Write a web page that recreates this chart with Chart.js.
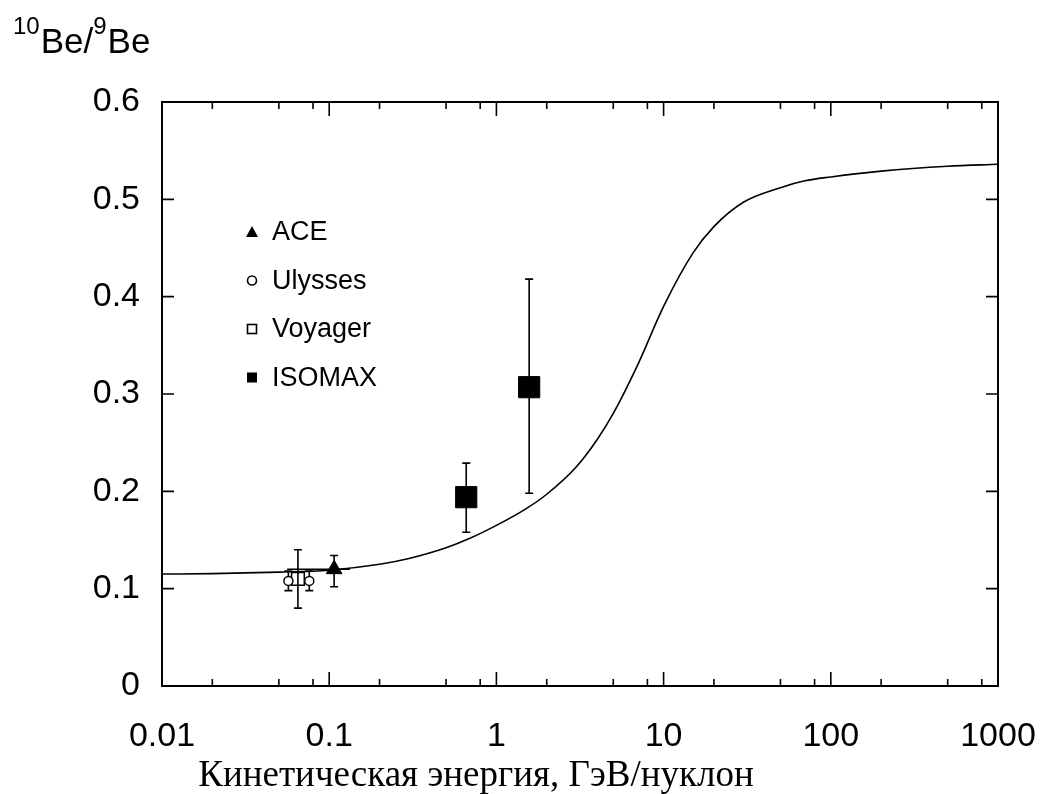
<!DOCTYPE html>
<html>
<head>
<meta charset="utf-8">
<script src="https://cdn.jsdelivr.net/npm/chart.js@4.4.1/dist/chart.umd.min.js"></script>
<style>
  html, body { margin: 0; padding: 0; background: #fff; }
</style>
</head>
<body>
<canvas id="be-chart" width="1042" height="794"></canvas>
<script>
// model curve, 10Be/9Be vs kinetic energy (GeV/nucleon)
let curveEnergy = [0.01, 0.02, 0.05, 0.1, 0.2, 0.3, 0.5, 0.7, 1, 1.5, 2, 3, 4, 5, 7, 10, 15, 20, 30, 50, 70, 100, 200, 500, 1000];
let curveRatio  = [0.115, 0.1155, 0.117, 0.119, 0.125, 0.131, 0.142, 0.152, 0.165, 0.182, 0.197, 0.225, 0.253, 0.28, 0.33, 0.39, 0.445, 0.472, 0.497, 0.512, 0.519, 0.523, 0.529, 0.534, 0.536];

let aceEnergy = [0.107];
let aceRatio = [0.12];
let aceLow = [0.102];
let aceHigh = [0.134];
let aceEnergyLow = [0.056];
let aceEnergyHigh = [0.133];

let ulyssesEnergy = [0.057, 0.076];
let ulyssesRatio = [0.108, 0.108];
let ulyssesLow = [0.098, 0.098];
let ulyssesHigh = [0.118, 0.118];

let voyagerEnergy = [0.065];
let voyagerRatio = [0.11];
let voyagerLow = [0.08];
let voyagerHigh = [0.14];

let isomaxEnergy = [0.66, 1.57];
let isomaxRatio = [0.194, 0.307];
let isomaxLow = [0.158, 0.198];
let isomaxHigh = [0.229, 0.418];

let xTicks = [0.01, 0.1, 1, 10, 100, 1000];
let xTickLabels = ['0.01', '0.1', '1', '10', '100', '1000'];
let xMinorSteps = [2, 5, 8];
let yTicks = [0, 0.1, 0.2, 0.3, 0.4, 0.5, 0.6];
let yTickLabels = ['0', '0.1', '0.2', '0.3', '0.4', '0.5', '0.6'];

let xTitle = 'Кинетическая энергия, ГэВ/нуклон';

let sans = '"Liberation Sans", Arial, sans-serif';
let serif = '"Liberation Serif", "Times New Roman", serif';

function pts(xs, ys) {
  return xs.map((x, i) => ({ x: x, y: ys[i] }));
}

// vertical (and horizontal) error bars
let errorBars = {
  id: 'errorBars',
  beforeDatasetsDraw(chart) {
    let ctx = chart.ctx, sx = chart.scales.x, sy = chart.scales.y;
    ctx.save();
    ctx.strokeStyle = '#000';
    ctx.lineWidth = 1.6;
    chart.data.datasets.forEach(ds => {
      if (!ds.errLow) return;
      ds.data.forEach((p, i) => {
        let px = sx.getPixelForValue(p.x);
        let top = sy.getPixelForValue(ds.errHigh[i]);
        let bot = sy.getPixelForValue(ds.errLow[i]);
        ctx.beginPath();
        ctx.moveTo(px, top); ctx.lineTo(px, bot);
        ctx.moveTo(px - 4, top); ctx.lineTo(px + 4, top);
        ctx.moveTo(px - 4, bot); ctx.lineTo(px + 4, bot);
        if (ds.errLeft) {
          let py = sy.getPixelForValue(p.y);
          ctx.moveTo(sx.getPixelForValue(ds.errLeft[i]), py);
          ctx.lineTo(sx.getPixelForValue(ds.errRight[i]), py);
        }
        ctx.stroke();
      });
    });
    ctx.restore();
  }
};

// box with inward ticks on all four sides
let frame = {
  id: 'frame',
  afterDatasetsDraw(chart) {
    let ctx = chart.ctx, a = chart.chartArea, sx = chart.scales.x, sy = chart.scales.y;
    ctx.save();
    ctx.strokeStyle = '#000';
    ctx.lineWidth = 2;
    ctx.strokeRect(a.left, a.top, a.right - a.left, a.bottom - a.top);
    ctx.lineWidth = 1.6;
    ctx.beginPath();
    xTicks.forEach((v, k) => {
      let px = sx.getPixelForValue(v);
      ctx.moveTo(px, a.bottom); ctx.lineTo(px, a.bottom - 14);
      ctx.moveTo(px, a.top); ctx.lineTo(px, a.top + 14);
      if (k < xTicks.length - 1) {
        xMinorSteps.forEach(m => {
          let qx = sx.getPixelForValue(v * m);
          ctx.moveTo(qx, a.bottom); ctx.lineTo(qx, a.bottom - 7);
          ctx.moveTo(qx, a.top); ctx.lineTo(qx, a.top + 7);
        });
      }
    });
    yTicks.forEach(v => {
      let py = sy.getPixelForValue(v);
      ctx.moveTo(a.left, py); ctx.lineTo(a.left + 12, py);
      ctx.moveTo(a.right, py); ctx.lineTo(a.right - 12, py);
    });
    ctx.stroke();
    ctx.restore();
  }
};

// axis captions and the legend inside the plot
let texts = {
  id: 'texts',
  afterDraw(chart) {
    let ctx = chart.ctx;
    ctx.save();
    ctx.fillStyle = '#000';
    ctx.textBaseline = 'alphabetic';

    // 10Be/9Be
    let x = 13;
    ctx.font = '24px ' + sans;
    ctx.fillText('10', x, 34);
    x += ctx.measureText('10').width + 1;
    ctx.font = '35px ' + sans;
    ctx.fillText('Be/', x, 53);
    x += ctx.measureText('Be/').width;
    ctx.font = '24px ' + sans;
    ctx.fillText('9', x, 34);
    x += ctx.measureText('9').width + 1;
    ctx.font = '35px ' + sans;
    ctx.fillText('Be', x, 53);

    ctx.font = '37px ' + serif;
    ctx.textAlign = 'center';
    ctx.fillText(xTitle, 476, 786);

    // legend
    ctx.textAlign = 'left';
    ctx.textBaseline = 'middle';
    ctx.font = '27px ' + sans;
    ctx.strokeStyle = '#000';
    ctx.lineWidth = 1.6;
    let sets = chart.data.datasets.filter(d => d.inLegend);
    sets.forEach((d, i) => {
      let ly = 232 + i * 48.5;
      let mx = 252;
      ctx.beginPath();
      if (d.pointStyle === 'triangle') {
        ctx.moveTo(mx, ly - 6); ctx.lineTo(mx + 6, ly + 5); ctx.lineTo(mx - 6, ly + 5); ctx.closePath();
        ctx.fill();
      } else if (d.pointStyle === 'circle') {
        ctx.arc(mx, ly, 4.5, 0, Math.PI * 2);
        ctx.stroke();
      } else if (d.backgroundColor === '#000') {
        ctx.fillRect(mx - 5, ly - 5, 10, 10);
      } else {
        ctx.strokeRect(mx - 4.5, ly - 4.5, 9, 9);
      }
      ctx.fillText(d.label, 272, ly + 1);
    });
    ctx.restore();
  }
};

let ctx = document.getElementById('be-chart').getContext('2d');

let chart = new Chart(ctx, {
  type: 'scatter',
  data: {
    datasets: [{
      type: 'line',
      label: 'model',
      data: pts(curveEnergy, curveRatio),
      borderColor: '#000',
      borderWidth: 1.6,
      pointRadius: 0,
      cubicInterpolationMode: 'monotone'
    }, {
      label: 'ACE',
      inLegend: true,
      data: pts(aceEnergy, aceRatio),
      errLow: aceLow, errHigh: aceHigh,
      errLeft: aceEnergyLow, errRight: aceEnergyHigh,
      pointStyle: 'triangle',
      pointRadius: 9,
      backgroundColor: '#000',
      borderColor: '#000'
    }, {
      label: 'Ulysses',
      inLegend: true,
      data: pts(ulyssesEnergy, ulyssesRatio),
      errLow: ulyssesLow, errHigh: ulyssesHigh,
      pointStyle: 'circle',
      pointRadius: 4.5,
      backgroundColor: '#fff',
      borderColor: '#000',
      borderWidth: 1.5
    }, {
      label: 'Voyager',
      inLegend: true,
      data: pts(voyagerEnergy, voyagerRatio),
      errLow: voyagerLow, errHigh: voyagerHigh,
      pointStyle: 'rect',
      pointRadius: 9,
      backgroundColor: 'rgba(255,255,255,0)',
      borderColor: '#000',
      borderWidth: 1.5
    }, {
      label: 'ISOMAX',
      inLegend: true,
      data: pts(isomaxEnergy, isomaxRatio),
      errLow: isomaxLow, errHigh: isomaxHigh,
      pointStyle: 'rect',
      pointRadius: 15,
      backgroundColor: '#000',
      borderColor: '#000'
    }]
  },
  options: {
    responsive: false,
    animation: false,
    layout: { padding: { left: 0, right: 44, top: 102, bottom: 0 } },
    plugins: {
      legend: { display: false },
      tooltip: { enabled: false }
    },
    scales: {
      x: {
        type: 'logarithmic',
        min: 0.01,
        max: 1000,
        grid: { display: false, drawTicks: false },
        border: { display: false },
        afterBuildTicks: s => { s.ticks = xTicks.map(v => ({ value: v })); },
        afterFit: s => { s.height = 108; s.paddingLeft = 0; s.paddingRight = 0; },
        ticks: {
          autoSkip: false,
          maxRotation: 0,
          padding: 30,
          color: '#000',
          font: { family: sans, size: 34 },
          callback: (v) => xTickLabels[xTicks.indexOf(v)]
        }
      },
      y: {
        min: 0,
        max: 0.6,
        grid: { display: false, drawTicks: false },
        border: { display: false },
        afterBuildTicks: s => { s.ticks = yTicks.map(v => ({ value: v })); },
        afterFit: s => { s.width = 162; },
        ticks: {
          padding: 22,
          color: '#000',
          font: { family: sans, size: 34 },
          callback: (v) => yTickLabels[yTicks.indexOf(v)]
        }
      }
    }
  },
  plugins: [errorBars, frame, texts]
});
</script>
</body>
</html>
